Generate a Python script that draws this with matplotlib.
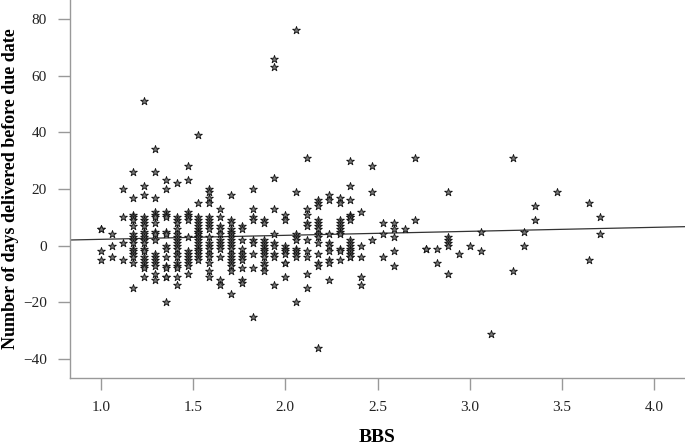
import numpy as np
import matplotlib
matplotlib.use('Agg')
import matplotlib.pyplot as plt

bbs_levels = [1.0, 1.059, 1.118, 1.176, 1.235, 1.294, 1.353, 1.412, 1.471, 1.529,
              1.588, 1.647, 1.706, 1.765, 1.824, 1.882, 1.941, 2.0, 2.059, 2.118,
              2.176, 2.235, 2.294, 2.353, 2.412, 2.471, 2.529, 2.588, 2.647, 2.706,
              2.765, 2.824, 2.882, 2.941, 3.0, 3.059, 3.118, 3.235, 3.294, 3.353,
              3.471, 3.647, 3.706]

days_at_level = [
    [6, 6, -2, -5],
    [4, 0, -4],
    [20, 10, 1, -5],
    [26, 17, 11, 10, 9, 7, 4, 3, 2, 1, -1, -2, -3, -4, -6, -15],
    [51, 21, 18, 10, 9, 8, 7, 5, 4, 3, 2, 1, -1, -2, -4, -5, -6, -7, -8, -11],
    [34, 26, 17, 12, 11, 10, 8, 5, 4, 2, -3, -4, -5, -6, -7, -10, -12],
    [23, 20, 12, 11, 10, 5, 4, 0, -1, -4, -7, -8, -11, -11, -20],
    [22, 10, 9, 8, 6, 4, 3, 2, 1, 0, -1, -3, -4, -6, -7, -8, -11, -14],
    [28, 23, 12, 11, 10, 9, 3, -2, -3, -4, -5, -6, -7, -10],
    [39, 15, 10, 9, 8, 7, 6, 5, 5, 4, 3, 3, 2, 1, 0, -1, -2, -3, -4, -5],
    [20, 19, 17, 15, 10, 9, 8, 7, 6, 3, 1, 0, -1, -3, -4, -6, -9, -11],
    [13, 10, 7, 6, 4, 2, 1, 0, -1, -4, -12, -14],
    [18, 9, 8, 6, 5, 4, 3, 2, 1, 0, -1, -3, -4, -5, -6, -7, -9, -17],
    [7, 6, 2, -1, -3, -4, -5, -8, -12, -13],
    [20, 13, 10, 9, 2, 1, -3, -8, -25],
    [9, 8, 2, 1, 0, -1, -2, -3, -4, -6, -7, -9],
    [66, 63, 24, 13, 4, 1, 0, -3, -4, -14],
    [11, 9, 0, -1, -2, -3, -6, -6, -11],
    [76, 19, 4, 3, 2, -1, -2, -3, -4, -20],
    [31, 13, 11, 8, 7, 2, -2, -4, -10, -15],
    [16, 15, 14, 9, 8, 7, 6, 4, 3, 1, -3, -6, -7, -36],
    [18, 16, 4, 1, 0, -2, -5, -6, -12],
    [17, 15, 9, 8, 7, 6, 5, 4, -1, -2, -5],
    [30, 21, 16, 11, 10, 10, 9, 2, 1, 0, -1, -2, -3, -4, -4],
    [12, 0, -4, -11, -14],
    [28, 19, 2],
    [8, 4, -4],
    [8, 6, 3, -2, -7],
    [6],
    [31, 9],
    [-1, -1],
    [-1, -6],
    [19, 3, 2, 1, 0, -10],
    [-3],
    [0],
    [5, -2],
    [-31],
    [31, -9],
    [5, 0],
    [14, 9],
    [19],
    [15, -5],
    [10, 4],
]

# fit line
fit_intercept = 0.83
fit_slope = 1.41

bbs = np.repeat(bbs_levels, [len(d) for d in days_at_level])
days = np.concatenate([np.array(d, dtype=float) for d in days_at_level])

plt.rcParams['font.family'] = ['Liberation Serif', 'DejaVu Serif']

fig = plt.figure(figsize=(6.85, 4.45), dpi=100)
ax = fig.add_axes([70/685, 67/445, 615/685, 378/445])

ax.scatter(bbs, days, marker='*', s=34, facecolor='#7a7a7a', edgecolor='#111111',
           linewidths=0.6, zorder=3)

xl = np.array([0.832, 4.168])
ax.plot(xl, fit_intercept + fit_slope * xl, color='#333333', lw=0.9, zorder=2)

ax.set_xlim(0.832, 4.168)
ax.set_ylim(-46.7, 86.7)
ax.set_xticks([1.0, 1.5, 2.0, 2.5, 3.0, 3.5, 4.0])
ax.set_xticklabels(['1.0', '1.5', '2.0', '2.5', '3.0', '3.5', '4.0'])
ax.set_yticks([-40, -20, 0, 20, 40, 60, 80])

for s in ['top', 'right']:
    ax.spines[s].set_visible(False)
for s in ['left', 'bottom']:
    ax.spines[s].set_color('#999999')
    ax.spines[s].set_linewidth(1.0)

ax.tick_params(axis='both', colors='#999999', labelcolor='#222222', labelsize=11,
               length=8.5, width=1.0)
ax.tick_params(axis='y', pad=8)
ax.tick_params(axis='x', pad=8)

ax.set_xlabel('BBS', fontsize=14, fontweight='bold', labelpad=11)
ax.set_ylabel('Number of days delivered before due date', fontsize=13,
              fontweight='bold', labelpad=3)

fig.savefig('out.png', dpi=100)
